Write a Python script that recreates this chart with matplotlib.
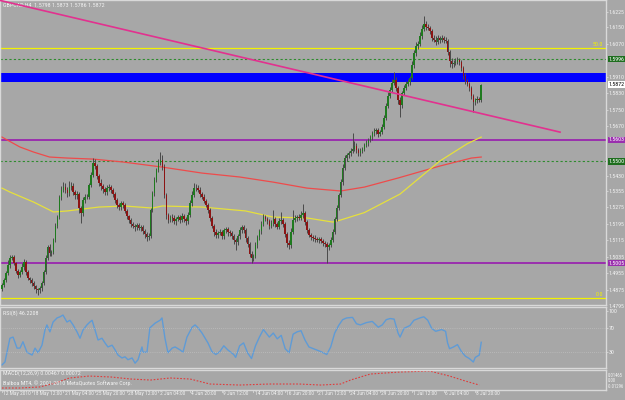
import matplotlib
matplotlib.use('Agg')
import matplotlib.pyplot as plt
import matplotlib.transforms as mtransforms
from matplotlib import font_manager as fm
from matplotlib.textpath import TextPath
import numpy as np

# GBPCAD H4, closes in pips (price * 10000)
closes = [
    14898, 14922, 14956, 14995, 15029, 15034, 15005, 14966, 14946, 14961,
    14985, 15010, 14961, 14932, 14922, 14908, 14893, 14878, 14874, 14883,
    14908, 14961, 15029, 15083, 15053, 15058, 15117, 15185, 15228, 15326,
    15360, 15374, 15360, 15345, 15374, 15379, 15350, 15335, 15340, 15272,
    15248, 15311, 15326, 15326, 15384, 15433, 15491, 15476, 15428, 15394,
    15379, 15364, 15350, 15369, 15374, 15360, 15340, 15311, 15287, 15277,
    15296, 15287, 15258, 15233, 15214, 15194, 15185, 15180, 15190, 15175,
    15180, 15160, 15146, 15131, 15136, 15262, 15345, 15408, 15457, 15491,
    15505, 15471, 15335, 15238, 15214, 15228, 15224, 15209, 15219, 15228,
    15214, 15233, 15219, 15209, 15238, 15296, 15335, 15369, 15369, 15360,
    15340, 15326, 15306, 15287, 15262, 15224, 15185, 15156, 15141, 15151,
    15156, 15136, 15165, 15170, 15156, 15151, 15136, 15117, 15107, 15136,
    15165, 15180, 15165, 15126, 15097, 15049, 15029, 15039, 15092, 15131,
    15160, 15194, 15228, 15219, 15209, 15185, 15199, 15219, 15194, 15180,
    15209, 15214, 15194, 15146, 15102, 15092, 15156, 15214, 15224, 15228,
    15224, 15238, 15248, 15204, 15165, 15141, 15131, 15126, 15121, 15117,
    15121, 15112, 15102, 15097, 15083, 15092, 15117, 15156, 15219, 15272,
    15335, 15398, 15466, 15515, 15530, 15539, 15549, 15559, 15573, 15554,
    15539, 15549, 15559, 15578, 15588, 15603, 15617, 15637, 15646, 15651,
    15632, 15641, 15666, 15710, 15768, 15816, 15846, 15880, 15894, 15855,
    15797, 15773, 15831, 15855, 15875, 15885, 15904, 15967, 16025, 16059,
    16069, 16108, 16142, 16166, 16152, 16147, 16132, 16098, 16089, 16079,
    16098, 16089, 16098, 16089, 16084, 16030, 15986, 15972, 15977, 15982,
    15991, 15982, 15952, 15914, 15889, 15875, 15855, 15816, 15787, 15797,
    15802, 15798, 15872,
]
upper_wick = [
    10, 12, 8, 24, 14, 10, 8, 6, 10, 12,
    20, 14, 8, 10, 6, 8, 10, 6, 8, 12,
    10, 12, 14, 8, 16, 12, 10, 14, 12, 10,
    20, 24, 18, 14, 30, 20, 16, 12, 14, 10,
    8, 14, 12, 16, 10, 12, 24, 20, 12, 10,
    18, 12, 10, 14, 16, 12, 10, 8, 12, 10,
    12, 8, 10, 8, 6, 10, 8, 12, 10, 8,
    10, 8, 12, 10, 14, 12, 10, 14, 12, 20,
    40, 24, 14, 10, 12, 10, 14, 12, 10, 12,
    10, 14, 12, 10, 14, 16, 18, 24, 20, 14,
    12, 10, 12, 8, 10, 8, 10, 8, 12, 10,
    14, 10, 12, 10, 8, 10, 8, 10, 8, 12,
    14, 12, 10, 8, 10, 8, 12, 10, 14, 12,
    10, 16, 14, 12, 10, 12, 14, 44, 12, 10,
    14, 40, 12, 10, 8, 14, 20, 50, 16, 12,
    14, 20, 44, 12, 10, 8, 12, 10, 14, 10,
    12, 10, 8, 10, 8, 12, 14, 12, 10, 14,
    12, 14, 18, 14, 12, 10, 16, 80, 24, 16,
    12, 14, 10, 12, 14, 10, 12, 10, 14, 12,
    10, 12, 14, 12, 16, 18, 14, 20, 40, 14,
    10, 14, 12, 16, 12, 14, 12, 18, 14, 20,
    16, 18, 20, 40, 14, 12, 10, 12, 14, 20,
    14, 12, 16, 10, 12, 8, 10, 14, 16, 20,
    14, 12, 10, 8, 12, 10, 8, 10, 12, 10,
    14, 10, 1,
]
lower_wick = [
    12, 8, 10, 8, 14, 10, 12, 10, 14, 8,
    10, 12, 14, 10, 12, 16, 14, 20, 26, 14,
    12, 10, 8, 10, 14, 12, 10, 8, 12, 10,
    14, 12, 16, 18, 12, 14, 16, 20, 18, 24,
    50, 14, 12, 10, 12, 10, 8, 12, 14, 16,
    18, 20, 16, 14, 12, 14, 12, 16, 14, 12,
    12, 14, 10, 12, 14, 16, 12, 18, 14, 12,
    16, 14, 18, 20, 14, 10, 8, 12, 10, 8,
    10, 12, 16, 20, 14, 12, 18, 14, 20, 12,
    14, 12, 16, 18, 12, 10, 12, 10, 14, 12,
    14, 12, 10, 12, 14, 16, 12, 18, 16, 14,
    12, 16, 14, 12, 18, 14, 12, 20, 40, 16,
    12, 14, 12, 18, 14, 16, 24, 12, 10, 12,
    14, 12, 10, 12, 14, 16, 12, 14, 16, 12,
    10, 12, 14, 16, 18, 20, 12, 10, 12, 14,
    12, 10, 12, 16, 14, 12, 14, 16, 14, 12,
    14, 12, 16, 14, 78, 14, 10, 12, 8, 10,
    8, 10, 12, 10, 12, 14, 12, 10, 12, 16,
    14, 12, 10, 12, 10, 12, 10, 12, 14, 12,
    16, 12, 10, 12, 10, 8, 10, 12, 10, 14,
    20, 58, 16, 12, 10, 12, 14, 10, 12, 14,
    12, 10, 14, 12, 16, 12, 14, 16, 12, 14,
    12, 14, 10, 16, 12, 14, 30, 18, 14, 12,
    12, 14, 12, 14, 12, 10, 14, 16, 50, 12,
    14, 12, 12,
]
first_open = 14880

# moving averages, sampled (bar index, price in pips)
ma_red_bar = [0, 9, 16, 24, 33, 46, 61, 81, 101, 120, 137, 154, 171, 183, 200, 221, 237, 242]
ma_red = [15617, 15569, 15544, 15520, 15515, 15510, 15496, 15471, 15442, 15423,
          15398, 15369, 15355, 15374, 15418, 15476, 15515, 15520]
ma_yel_bar = [0, 4, 16, 26, 33, 49, 62, 76, 81, 101, 123, 137, 154, 167, 171, 183,
              201, 211, 221, 235, 242]
ma_yel = [15369, 15350, 15301, 15253, 15258, 15277, 15282, 15272, 15282, 15277,
          15258, 15228, 15224, 15204, 15214, 15250, 15340, 15420, 15500, 15585, 15617]

# trend line end points (bar index, pips)
trend_bar = [-1.0, 281.8]
trend_px = [16281, 15641]

# horizontal objects (pips)
yellow_levels = [16050, 14835]
green_dotted = [15996, 15500]
purple_levels = [15603, 15005]
blue_zone = (15885, 15927)

price_ticks = [16225, 16150, 16070, 15910, 15830, 15750, 15670,
               15430, 15355, 15275, 15195, 15115, 15035, 14955, 14875]

# RSI, sampled (bar index, value)
rsi_bar = [0, 1.5, 4, 5.6, 7.6, 9.1, 10.6, 12.6, 15.2, 16.7, 18.2, 20.2, 21.7, 22.7, 24.2,
           25.8, 27.8, 29.3, 30.8, 32.8, 34.3, 35.9, 37.9, 39.4, 40.9, 42.9, 44.4, 45.5,
           47, 48.5, 50.5, 52, 53.5, 55.6, 57.1, 58.6, 60.6, 62.1, 63.6, 65.7, 67.2, 68.7,
           70.7, 71.2, 73.2, 74.7, 77.3, 79.8, 80.8, 82.3, 83.8, 85.9, 87.4, 89.9, 91.4,
           93.4, 96, 97.5, 99, 101, 104, 106, 108, 110, 112, 114, 117, 118, 120, 122, 124,
           126, 128, 130, 132, 135, 137, 139, 141, 143, 145, 147, 149, 151, 153, 155, 158,
           161, 164, 166, 168, 170, 172, 174, 177, 179, 181, 184, 187, 190, 192, 194, 196,
           198, 200, 201, 203, 206, 208, 211, 213, 215, 217, 219, 222, 224, 225, 226, 228,
           230, 232, 234, 236, 238, 239, 240, 241, 242]
rsi_val = [7, 12, 53, 55, 36, 36, 47, 29, 24, 36, 28, 41, 67, 76, 64,
           81, 88, 90, 93, 81, 84, 76, 64, 53, 67, 76, 81, 84,
           67, 50, 53, 45, 38, 41, 33, 24, 19, 21, 16, 19, 10, 16,
           38, 29, 29, 71, 79, 84, 88, 53, 28, 36, 38, 33, 29,
           55, 72, 76, 71, 62, 45, 30, 25, 30, 40, 33, 25, 20, 40, 45, 28,
           18, 40, 55, 68, 55, 62, 52, 58, 35, 28, 60, 64, 66, 50, 38, 34,
           30, 25, 38, 62, 75, 85, 88, 89, 78, 76, 80, 82, 72, 76, 85, 87,
           86, 62, 55, 70, 75, 84, 88, 90, 84, 70, 65, 68, 65, 45, 35, 38,
           42, 30, 22, 18, 12, 20, 22, 24, 46]

# MACD signal line, sampled (bar index, value)
sig_bar = [0, 9, 19, 27, 34, 44, 55, 65, 75, 85, 95, 105, 120, 135, 150, 161, 171,
           176, 186, 201, 216, 226, 234, 241]
sig_val = [-0.0102, -0.0102, -0.0088, -0.0033, 0.0036, 0.0063, 0.0050, 0.0022, 0.0008,
           0.0036, 0.0022, -0.0047, -0.0061, -0.0047, -0.0047, -0.0061, -0.0047, 0.0008,
           0.0091, 0.0119, 0.0132, 0.0063, -0.0006, -0.0061]

time_bar = [0, 15, 31, 47, 63, 79, 95, 111, 127, 143, 159, 175, 191, 207, 223, 239]
time_labels = ["12 May 2010", "18 May 12:00", "21 May 04:00", "25 May 20:00", "28 May 12:00",
               "2 Jun 04:00", "4 Jun 20:00", "9 Jun 12:00", "14 Jun 04:00", "16 Jun 20:00",
               "21 Jun 12:00", "24 Jun 04:00", "29 Jun 20:00", "1 Jul 12:00", "6 Jul 04:00",
               "8 Jul 20:00"]

bg = '#a7a7a7'
frame = '#d9d9d9'
txt = '#f2f2f2'

# pick the narrowest installed sans, then size the small texts to the widths in the picture
installed = {f.name for f in fm.fontManager.ttflist}
family = next((n for n in ['Liberation Sans Narrow', 'Roboto Condensed', 'Liberation Sans',
                           'Roboto', 'DejaVu Sans'] if n in installed), 'DejaVu Sans')
plt.rcParams['font.family'] = [family, 'DejaVu Sans']
fprop = fm.FontProperties(family=family)


def fit(s, px):
    w = TextPath((0, 0), s, size=10, prop=fprop).get_extents().width
    return 10 * px * 0.72 / w


fs_axis = fit('1.6225', 15.5)
fs_time = fit('9 Jun 12:00', 25)
fs_head = fit('GBPCAD,H4  1.5798 1.5873 1.5786 1.5872', 100)
fs_macd = fit('-0.01296', 16)

fig = plt.figure(figsize=(6.25, 4), dpi=100, facecolor=bg)
W = 606 / 625
ax = fig.add_axes([0, 95 / 400, W, 305 / 400], facecolor=bg)
ax_rsi = fig.add_axes([0, 32 / 400, W, 61 / 400], facecolor=bg)
ax_macd = fig.add_axes([0, 10 / 400, W, 20 / 400], facecolor=bg)

for a in (ax, ax_rsi, ax_macd):
    a.set_xlim(-1.0, 305.0)
    for s in a.spines.values():
        s.set_color(frame)
        s.set_linewidth(1.0)
    a.set_xticks([])
    a.yaxis.tick_right()
    a.tick_params(axis='y', colors=frame, labelcolor=txt, labelsize=fs_axis,
                  length=1.5, width=0.6, pad=0.6)

# --- price panel ---
c = np.array(closes) / 10000
o = np.array([first_open] + closes[:-1]) / 10000
hi = np.maximum(o, c) + np.array(upper_wick) / 10000
lo = np.minimum(o, c) - np.array(lower_wick) / 10000
x = np.arange(len(c))
up = c >= o

ax.set_ylim(1.4801, 1.6283)
ax.axhspan(blue_zone[0] / 10000, blue_zone[1] / 10000, color='#0000ff', lw=0, zorder=1)
for p in yellow_levels:
    ax.axhline(p / 10000, color='#f2f200', lw=0.9, zorder=1)
for p in green_dotted:
    ax.axhline(p / 10000, color='#2e8b2e', lw=0.8, ls=(0, (2, 2)), zorder=1)
for p in purple_levels:
    ax.axhline(p / 10000, color='#9a2fae', lw=1.4, zorder=1)

ax.plot(ma_red_bar, np.array(ma_red) / 10000, color='#ee4b4b', lw=0.9, zorder=2)
ax.plot(ma_yel_bar, np.array(ma_yel) / 10000, color='#e6e03c', lw=0.9, zorder=2)

ax.vlines(x, lo, hi, color='#4a4a4a', lw=0.7, zorder=3)
body = np.maximum(np.abs(c - o), 0.00008)
ax.bar(x[up], body[up], bottom=np.minimum(o, c)[up], width=0.8, color='#1f7a1f', lw=0, zorder=4)
ax.bar(x[~up], body[~up], bottom=np.minimum(o, c)[~up], width=0.8, color='#8c1414', lw=0, zorder=4)

ax.plot(trend_bar, np.array(trend_px) / 10000, color='#e2318f', lw=1.2, zorder=5)

ax.set_yticks(np.array(price_ticks) / 10000)
ax.set_yticklabels(['%.4f' % (p / 10000) for p in price_ticks])
ax.text(1.004, -0.004, '1.4795', transform=ax.transAxes, color=txt, fontsize=fs_axis,
        va='center', ha='left', clip_on=False)

trans = mtransforms.blended_transform_factory(ax.transAxes, ax.transData)
boxes = [(15996, '1.5996', '#1e6e1e', 'white'), (15872, '1.5872', 'white', 'black'),
         (15603, '1.5603', '#9a2fae', 'white'), (15500, '1.5500', '#1e6e1e', 'white'),
         (15005, '1.5005', '#9a2fae', 'white')]
for p, lab, fc, tc in boxes:
    ax.text(1.004, p / 10000, lab, transform=trans, color=tc, fontsize=fs_axis, va='center',
            ha='left', clip_on=False, zorder=10,
            bbox=dict(boxstyle='square,pad=0.15', fc=fc, ec=fc, lw=0))

ax.text(0.995, 16050 / 10000 + 0.0006, '50.0', transform=trans, color='#f2f200',
        fontsize=fs_axis, ha='right', va='bottom')
ax.text(0.995, 14835 / 10000 + 0.0006, '0.0', transform=trans, color='#f2f200',
        fontsize=fs_axis, ha='right', va='bottom')
ax.text(0.005, 0.99, 'GBPCAD,H4  1.5798 1.5873 1.5786 1.5872', transform=ax.transAxes,
        color=txt, fontsize=fs_head, va='top', ha='left')

# --- RSI panel ---
ax_rsi.plot(rsi_bar, rsi_val, color='#5f9bd6', lw=1.0)
for lvl in (70, 30):
    ax_rsi.axhline(lvl, color='#c8c8c8', lw=0.5, ls=(0, (1, 2)))
ax_rsi.set_yticks([100, 70, 30, 0])
ax_rsi.set_yticklabels(['100', '70', '30', '0'])
ax_rsi.set_ylim(1.7, 106.9)
ax_rsi.text(0.005, 0.95, 'RSI(8) 46.2208', transform=ax_rsi.transAxes, color=txt,
            fontsize=fs_head, va='top', ha='left')

# --- MACD panel ---
ax_macd.set_ylim(-0.01296, 0.01465)
ax_macd.plot(sig_bar, sig_val, color='#e03a3a', lw=0.8, ls=(0, (1.5, 1.5)))
ax_macd.set_yticks([])
for fy, lab in ((0.74, '0.01465'), (0.47, '0.00'), (0.2, '-0.01296')):
    ax_macd.text(1.003, fy, lab, transform=ax_macd.transAxes, color=txt, fontsize=fs_macd,
                 va='center', ha='left', clip_on=False)
ax_macd.text(0.005, 0.98, 'MACD(12,26,9) 0.00467 0.00072', transform=ax_macd.transAxes,
             color=txt, fontsize=fs_head, va='top', ha='left')
ax_macd.text(0.005, 0.5, 'Balboa MT4, \u00a9 2001-2010 MetaQuotes Software Corp.',
             transform=ax_macd.transAxes, color=txt, fontsize=fs_head, va='top', ha='left')

# time axis along the bottom
tt = mtransforms.blended_transform_factory(ax_macd.transData, fig.transFigure)
for b, lab in zip(time_bar, time_labels):
    ax_macd.plot([b, b], [10 / 400, 8 / 400], transform=tt, color=frame, lw=0.6, clip_on=False)
    ax_macd.text(b + 0.6, 6.5 / 400, lab, transform=tt, color=txt, fontsize=fs_time,
                 va='center', ha='left', clip_on=False)

fig.savefig('out.png', dpi=100, facecolor=bg)
